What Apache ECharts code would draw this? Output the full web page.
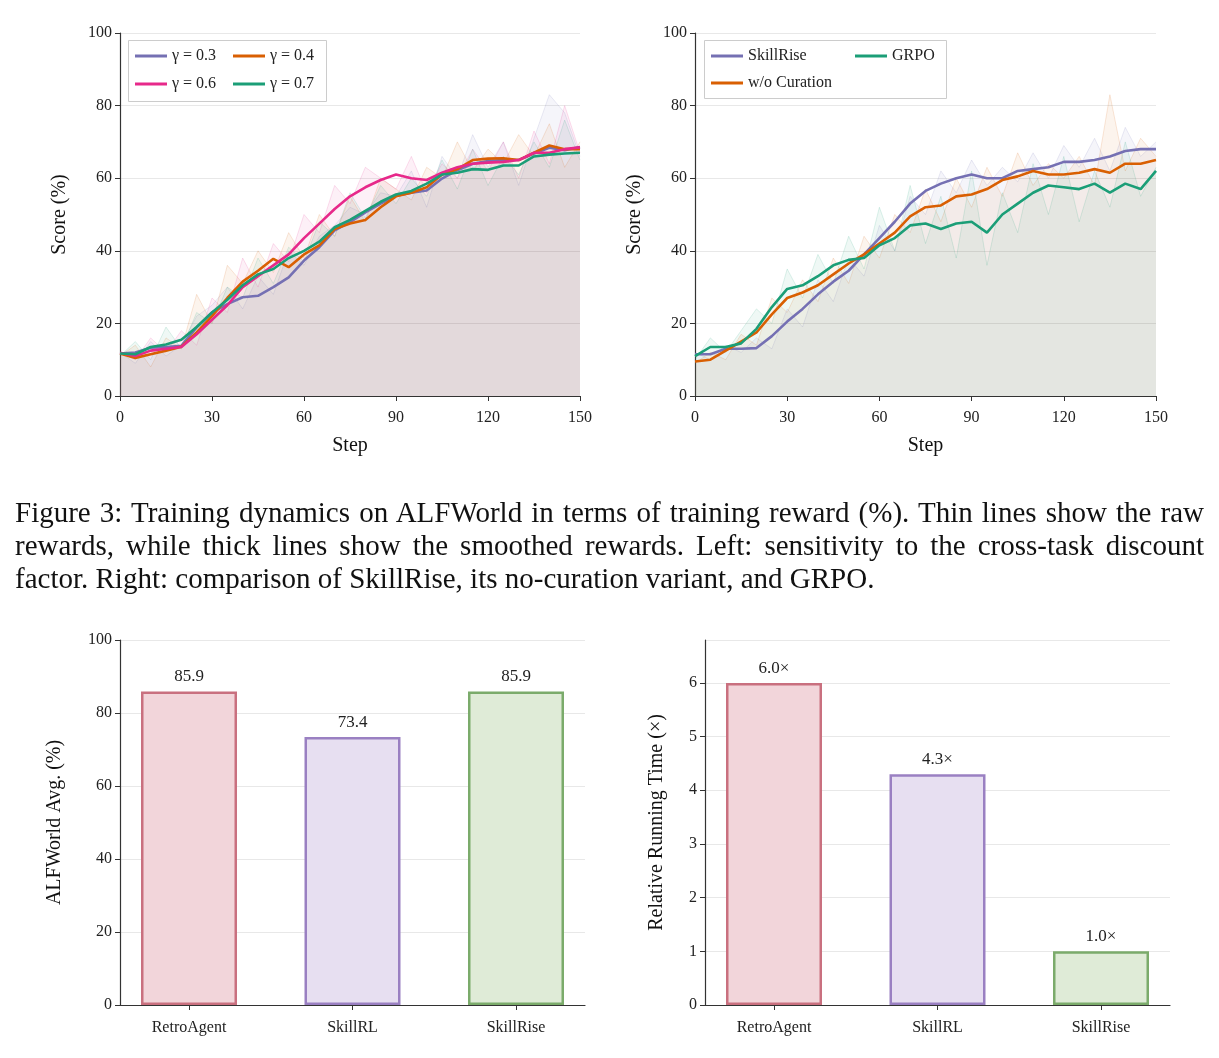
<!DOCTYPE html>
<html><head><meta charset="utf-8">
<script src="https://cdn.jsdelivr.net/npm/echarts@6/dist/echarts.min.js"></script>
<style>html,body{margin:0;padding:0;background:#fff}#c{width:1219px;height:1058px}
#cap{position:absolute;left:15px;top:496px;width:1189px;font-family:'Liberation Serif';font-size:29px;line-height:33px;color:#111;text-align:justify;text-align-last:left}
#cap span{display:block;text-align:justify;text-align-last:justify}#cap span.last{text-align-last:left}</style>
</head><body><div id="c"></div><div id="cap"></div>
<script>
const steps=[0,5,10,15,20,25,30,35,40,45,50,55,60,65,70,75,80,85,90,95,100,105,110,115,120,125,130,135,140,145,150];
const s03=[11.7,12,13.3,13.5,13.8,18.9,23,25.3,27.2,27.6,30,32.7,37.3,41,45.6,47.9,50.6,53,55.2,56,56.6,59.9,62.2,64,64.7,65,65,66.8,68.4,67.7,68.6];
const s04=[11.7,10.5,11.5,12.5,13.6,17.5,22,27,31.5,34.5,37.8,35.5,39,41.5,46,47.5,48.5,52,55,56,57.5,61,62.5,65,65.4,65.5,65,67,69,68,68];
const s06=[11.9,11,12.5,13,13.5,17,21,25,30,33,36,39,43.5,47.5,51.5,55,57.5,59.5,61,60,59.5,61.5,63,64,64.3,64.5,65,67,67,68,68.5];
const s07=[11.7,11.5,13.5,14.2,15.5,19,23,26.5,30.5,33.5,35,38,40,42.5,46.5,48.5,51,53.5,55.5,56.5,58.5,61,61.5,62.5,62.3,63.5,63.5,66,66.5,66.8,67];
const r03=[12,9,15,11,14,22,25,30,24,33,28,40,36,44,47,52,50,56,55,62,52,66,60,72,63,70,58,71,83,78,66];
const r04=[11,14,8,16,13,28,20,36,31,40,34,45,38,50,44,55,48,60,57,54,63,60,70,62,68,64,72,66,75,63,70];
const r06=[12,10,16,12,18,14,27,23,38,30,42,37,50,45,58,53,63,60,57,66,56,64,60,68,62,70,60,73,64,80,67];
const r07=[11,15,10,19,13,23,20,30,27,38,31,41,37,48,44,56,49,58,53,60,55,65,57,68,58,66,61,70,63,76,65];
const sSR=[11.5,11.5,13,13,13.2,16.5,20.5,24,28,31.5,34.5,39,43.5,48,53,56.5,58.5,60,61,60,60,62,62.5,63,64.5,64.5,65,66,67.5,68,68];
const sWC=[9.5,10,12.5,15,17.5,22.5,27,28.5,30.5,33.5,36.5,39,42,45,49.5,52,52.5,55,55.5,57,59.5,60.5,62,61,61,61.5,62.5,61.5,64,64,65];
const sGR=[11,13.5,13.5,14.5,18.5,24.5,29.5,30.5,33,36,37.5,38,41.5,43.5,47,47.5,46,47.5,48,45,50,53,56,58,57.5,57,58.5,56,58.5,57,62];
const rSR=[12,10,14,12,16,13,24,19,32,26,38,33,47,40,55,50,62,56,65,58,63,59,67,60,69,63,71,62,74,66,70];
const rWC=[9,12,10,17,14,27,23,32,26,38,31,44,38,50,45,57,48,60,52,63,55,67,58,64,60,66,58,83,62,71,66];
const rGR=[10,16,12,18,24,20,35,27,39,31,44,35,52,40,58,42,55,38,62,36,56,45,64,50,66,48,62,52,70,55,63];
const barCats=['RetroAgent','SkillRL','SkillRise'];
const alfAvg=[85.9,73.4,85.9];
const runTime=[6.0,4.3,1.0];
const caption=['Figure 3: Training dynamics on ALFWorld in terms of training reward (%). Thin lines show the raw','rewards, while thick lines show the smoothed rewards.  Left:  sensitivity to the cross-task discount','factor. Right: comparison of SkillRise, its no-curation variant, and GRPO.'];

const cap=document.getElementById('cap');
caption.forEach((t,i)=>{const s=document.createElement('span');s.textContent=t;if(i===caption.length-1)s.className='last';cap.appendChild(s);});

const F='Liberation Serif';
const C={p:'#7570b3',o:'#d95f02',k:'#e7298a',g:'#1b9e77'};
const pair=a=>steps.map((s,i)=>[s,a[i]]);
const lbl={fontFamily:F,fontSize:16,color:'#222'};
const axLine={show:true,lineStyle:{color:'#333',width:1.2}};
const tick={show:true,length:5,lineStyle:{color:'#333'}};
const nameTS={fontFamily:F,fontSize:20,color:'#111'};
const grids=[
 {left:120,top:33,width:460,height:363},
 {left:695,top:33,width:461,height:363},
 {left:120,top:640,width:465,height:365},
 {left:705,top:640,width:465,height:365},
 {left:107.25,top:640,width:490.5,height:365},
 {left:692.25,top:640,width:490.5,height:365}];
const xA=[0,1].map(i=>({type:'value',gridIndex:i,min:0,max:150,interval:30,axisLine:axLine,axisTick:tick,axisLabel:Object.assign({margin:14},lbl),splitLine:{show:false},name:'Step',nameLocation:'middle',nameGap:40,nameTextStyle:nameTS}));
const yA=[0,1].map(i=>({type:'value',gridIndex:i,min:0,max:100,interval:20,axisLine:axLine,axisTick:tick,axisLabel:lbl,splitLine:{lineStyle:{color:'#e8e8e8'}},name:'Score (%)',nameLocation:'middle',nameGap:50,nameTextStyle:nameTS}));
xA.push(...[2,3].map(i=>({type:'value',gridIndex:i,min:0,max:1,axisLine:axLine,axisTick:{show:false},axisLabel:{show:false},splitLine:{show:false}})));
yA.push({type:'value',gridIndex:2,min:0,max:100,interval:20,axisLine:axLine,axisTick:tick,axisLabel:lbl,splitLine:{lineStyle:{color:'#e8e8e8'}},name:'ALFWorld Avg. (%)',nameLocation:'middle',nameGap:55,nameTextStyle:nameTS});
yA.push({type:'value',gridIndex:3,min:0,max:6.8,interval:1,axisLine:axLine,axisTick:tick,axisLabel:Object.assign({showMaxLabel:false},lbl),splitLine:{lineStyle:{color:'#e8e8e8'}},name:'Relative Running Time (×)',nameLocation:'middle',nameGap:38,nameTextStyle:nameTS});
xA.push(...[4,5].map(i=>({type:'category',gridIndex:i,data:barCats,axisLine:{show:false},axisTick:{show:true,alignWithLabel:true,length:5,lineStyle:{color:'#333'}},axisLabel:Object.assign({margin:15},lbl)})));
yA.push({type:'value',gridIndex:4,min:0,max:100,show:false,splitLine:{show:false}});
yA.push({type:'value',gridIndex:5,min:0,max:6.8,show:false,splitLine:{show:false}});

const series=[];
function raw(a,col,gi){series.push({type:'line',xAxisIndex:gi,yAxisIndex:gi,data:pair(a),symbol:'none',silent:true,lineStyle:{color:col,width:1,opacity:0.15},areaStyle:{color:col,opacity:0.07},z:1});}
function sm(name,a,col,gi){series.push({name,type:'line',xAxisIndex:gi,yAxisIndex:gi,data:pair(a),symbol:'none',lineStyle:{color:col,width:2.6},itemStyle:{color:col},z:5});}
raw(r03,C.p,0);raw(r04,C.o,0);raw(r06,C.k,0);raw(r07,C.g,0);
sm('γ = 0.3',s03,C.p,0);sm('γ = 0.4',s04,C.o,0);sm('γ = 0.6',s06,C.k,0);sm('γ = 0.7',s07,C.g,0);
raw(rSR,C.p,1);raw(rWC,C.o,1);raw(rGR,C.g,1);
sm('SkillRise',sSR,C.p,1);sm('w/o Curation',sWC,C.o,1);sm('GRPO',sGR,C.g,1);
const bc=[['#f2d5da','#c9707f'],['#e7dff1','#9a80c2'],['#dfebd7','#7bab6b']];
function bars(vals,gi,fmt){series.push({type:'bar',xAxisIndex:gi,yAxisIndex:gi,barWidth:96,data:vals.map((v,i)=>({value:v,itemStyle:{color:bc[i][0],borderColor:bc[i][1],borderWidth:2.5}})),label:{show:true,position:'top',distance:6,fontFamily:F,fontSize:17,color:'#222',formatter:fmt}});}
bars(alfAvg,4,p=>p.value.toFixed(1));
bars(runTime,5,p=>p.value.toFixed(1)+'×');

const leg=(name,x,y)=>({data:[name],left:x,top:y-7,padding:0,itemWidth:32,itemHeight:3,icon:'rect',textStyle:{fontFamily:F,fontSize:16,color:'#222'}});
const opt={animation:false,grid:grids,xAxis:xA,yAxis:yA,series,
 legend:[leg('γ = 0.3',135,55),leg('γ = 0.4',233,55),leg('γ = 0.6',135,83),leg('γ = 0.7',233,83),
  leg('SkillRise',711,55),leg('GRPO',855,55),leg('w/o Curation',711,82)],
 graphic:[{type:'rect',shape:{x:128.5,y:40.5,width:198,height:61},style:{fill:'#fff',stroke:'#ccc',lineWidth:1},z:-1},
  {type:'rect',shape:{x:704.5,y:40.5,width:242,height:58},style:{fill:'#fff',stroke:'#ccc',lineWidth:1},z:-1}]};
const ch=echarts.init(document.getElementById('c'));
ch.setOption(opt);
</script></body></html>
